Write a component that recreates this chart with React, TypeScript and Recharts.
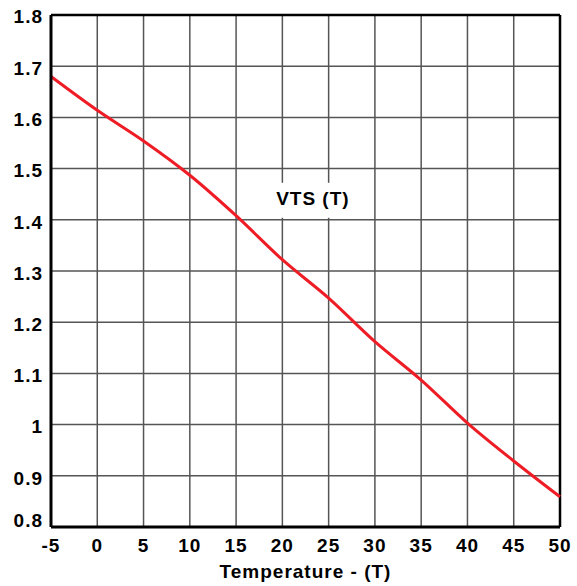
import React from "react";
import {
  LineChart,
  Line,
  XAxis,
  YAxis,
  CartesianGrid,
  ReferenceLine,
  ReferenceDot,
} from "recharts";

const temperatures = [-5, 0, 5, 10, 15, 20, 25, 30, 35, 40, 45, 50];
const vtsValues = [1.68, 1.614, 1.554, 1.487, 1.408, 1.322, 1.247, 1.162, 1.087, 1.003, 0.929, 0.859];
const xTicks = [-5, 0, 5, 10, 15, 20, 25, 30, 35, 40, 45, 50];
const yTicks = [0.8, 0.9, 1.0, 1.1, 1.2, 1.3, 1.4, 1.5, 1.6, 1.7, 1.8];
const seriesName = "VTS (T)";
const xTitle = "Temperature - (T)";
const annotationAt = { x: 23.3, y: 1.443 };

const data = temperatures.map((t, i) => ({ t, v: vtsValues[i] }));

const FONT = "'Liberation Sans', Arial, Helvetica, sans-serif";
const textStyle = {
  fontFamily: FONT,
  fontWeight: "bold" as const,
  fontSize: 19,
  letterSpacing: 1,
  fill: "#000",
};

const XTick = (props: any) => {
  const { x, y, payload } = props;
  return (
    <text x={x} y={y + 18} dy="0.36em" textAnchor="middle" style={textStyle}>
      {payload.value}
    </text>
  );
};

const YTick = (props: any) => {
  const { x, y, payload } = props;
  const shift = payload.value === yTicks[0] ? -7 : payload.value === yTicks[yTicks.length - 1] ? 1 : 2;
  return (
    <text x={x - 8} y={y + shift} dy="0.36em" textAnchor="end" style={textStyle}>
      {String(Number(payload.value.toFixed(1)))}
    </text>
  );
};

const Annotation = (props: any) => {
  const { cx, cy } = props;
  return (
    <g>
      <rect x={cx - 41} y={cy - 15} width={82} height={35} fill="#fff" />
      <text x={cx} y={cy} dy="0.36em" textAnchor="middle" style={textStyle}>
        {seriesName}
      </text>
    </g>
  );
};

export default function App() {
  return (
    <div style={{ position: "absolute", top: 0, left: 0, background: "#fff" }}>
      <LineChart
        width={577}
        height={586}
        data={data}
        margin={{ top: 15, right: 17, bottom: 0, left: 0 }}
      >
        <CartesianGrid stroke="#555" strokeWidth={1.5} fill="#fff" />
        <XAxis
          dataKey="t"
          type="number"
          domain={[-5, 50]}
          ticks={xTicks}
          height={59}
          tickLine={false}
          tickSize={0}
          tickMargin={0}
          tick={<XTick />}
          axisLine={{ stroke: "#000", strokeWidth: 3 }}
          interval={0}
          label={{
            value: xTitle,
            position: "insideBottom",
            offset: 8,
            style: textStyle,
          }}
        />
        <YAxis
          type="number"
          domain={[0.8, 1.8]}
          ticks={yTicks}
          width={51}
          tickLine={false}
          tickSize={0}
          tickMargin={0}
          tick={<YTick />}
          axisLine={{ stroke: "#000", strokeWidth: 3 }}
          interval={0}
          allowDataOverflow
        />
        <ReferenceLine y={1.8} stroke="#000" strokeWidth={2.5} />
        <ReferenceLine x={50} stroke="#000" strokeWidth={2.5} />
        <ReferenceDot x={annotationAt.x} y={annotationAt.y} r={0} shape={<Annotation />} />
        <Line
          type="monotone"
          dataKey="v"
          stroke="#ee1c25"
          strokeWidth={3}
          dot={false}
          isAnimationActive={false}
        />
      </LineChart>
    </div>
  );
}
